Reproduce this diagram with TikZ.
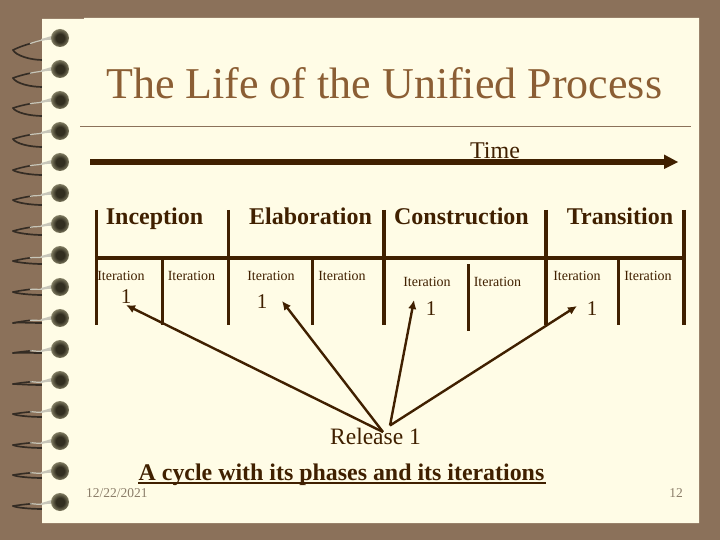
\documentclass[tikz,border=0pt]{standalone}
\usepackage{fontspec}
\setmainfont{Liberation Serif}
\usetikzlibrary{arrows.meta,shadings}
\definecolor{bgc}{RGB}{139,113,90}
\definecolor{paper}{RGB}{255,252,230}
\definecolor{ink}{RGB}{64,32,0}
\definecolor{titlec}{RGB}{139,94,52}
\definecolor{greyt}{RGB}{139,125,105}
\definecolor{beadd}{RGB}{50,46,32}
\definecolor{beadm}{RGB}{110,106,82}
\definecolor{beadl}{RGB}{190,186,155}
\definecolor{wired}{RGB}{52,44,36}
\definecolor{wirel}{RGB}{200,198,185}
\pgfdeclareradialshading{beadsh}{\pgfpoint{0bp}{0bp}}{color(0bp)=(beadd); color(12bp)=(beadd); color(22bp)=(beadm); color(34bp)=(beadl); color(50bp)=(paper)}
\newcommand{\fs}[1]{\fontsize{#1}{#1}\selectfont}
\newcommand{\ringlist}{38/12/22,69/9/18,100/8/16,131/8/16,162/8/13,193/7/12,224/7/11,255/6/9,287/5/8,318/5/5,349/4/4,380/4/5,410/4/7,441/4/7,471/4/7,502/4/7}
\tikzset{
  bar/.style={draw=ink,line width=3.4pt},
  arr/.style={draw=ink,line width=2.4pt,-{Latex[length=9pt,width=8.5pt]}},
  lbl/.style={text=ink,inner sep=0pt,anchor=base},
  iter/.style={lbl,font=\fs{14}},
  one/.style={lbl,font=\fs{21}},
  phase/.style={lbl,font=\fs{24}\bfseries},
  foot/.style={text=greyt,inner sep=0pt,anchor=base,font=\fs{13.5}},
}
\begin{document}
\begin{tikzpicture}[x=1pt,y=-1pt]
\useasboundingbox (0,0) rectangle (720,540);
\fill[bgc] (0,0) rectangle (720,540);
% rings, the parts that lie on the backing
\foreach \b/\t/\l in \ringlist {
  \draw[wired,line width=1.7pt,line cap=round] (13,\b+\t) .. controls (16,\b+\l*.8) and (30,\b+\l) .. (43,\b+\l);
  \draw[wired,line width=1.6pt,line cap=round] (13,\b+\t) .. controls (18,\b+\t*.8) and (24,\b+\t*.6) .. (31,\b+\t*.45);
  \draw[wirel,line width=1.2pt] (30,\b+\t*.47) .. controls (34,\b+\t*.35) and (38,\b+3) .. (43,\b+2);
}
\fill[paper] (42,19) -- (84,19) -- (84,18) -- (699,18) -- (699,523) -- (42,523) -- cycle;
\foreach \b/\t/\l in \ringlist {
  \fill[wirel] (41,\b+1) .. controls (46,\b) and (50,\b-2) .. (56,\b-3) -- (56,\b+3) .. controls (50,\b+1) and (46,\b+2) .. (41,\b+3) -- cycle;
  \shade[shading=beadsh] (60,\b) circle (9);
}
% title
\node[inner sep=0pt,anchor=base west,text=titlec,font=\fs{44}] (title) at (106,99) {The Life of the Unified Process};
\coordinate (ruleA) at (80,126.5);
\coordinate (ruleB) at (691,126.5);
\draw[draw=bgc,line width=.8pt] (ruleA) -- (ruleB);
% time
\node[lbl,font=\fs{24}] (time) at (495,159) {Time};
\coordinate (tA) at (90,162);
\coordinate (tB) at (665,162);
\coordinate (tC) at (678,162);
\draw[draw=ink,line width=6pt] (tA) -- (tB);
\fill[ink] (664,154.5) -- (tC) -- (664,169) -- cycle;
% phases
\node[phase] (p1) at (154.5,225) {Inception};
\node[phase] (p2) at (310.5,225) {Elaboration};
\node[phase] (p3) at (461.5,225) {Construction};
\node[phase] (p4) at (620,225) {Transition};
% grid
\draw[bar] (94.8,258) -- (685.7,258);
\foreach \x in {96.5,228.5,384,546,684}{\draw[bar] (\x,210) -- (\x,325);}
\foreach \x in {162.5,312.5,618.5}{\draw[bar,line width=3pt] (\x,258) -- (\x,325);}
\draw[bar,line width=3pt] (468.5,264) -- (468.5,331);
% iterations
\node[iter] (i1) at (121,280) {Iteration};
\node[iter] (i2) at (191.5,280) {Iteration};
\node[iter] (i3) at (271,280) {Iteration};
\node[iter] (i4) at (342,280) {Iteration};
\node[iter] (i5) at (427,286) {Iteration};
\node[iter] (i6) at (497.5,286) {Iteration};
\node[iter] (i7) at (577,280) {Iteration};
\node[iter] (i8) at (648,280) {Iteration};
\node[one] (o1) at (126,303) {1};
\node[one] (o2) at (262,308) {1};
\node[one] (o3) at (431,315) {1};
\node[one] (o4) at (592,315) {1};
% release
\node[lbl,font=\fs{23.5}] (rel) at (375.5,444) {Release 1};
\coordinate (rA) at (383,432);
\coordinate (rB) at (390,425.5);
\coordinate (t1) at (126,305);
\coordinate (t2) at (282,301);
\coordinate (t3) at (414,300);
\coordinate (t4) at (577,306);
\draw[arr] (rA) -- (t1);
\draw[arr] (rA) -- (t2);
\draw[arr] (rB) -- (t3);
\draw[arr] (rB) -- (t4);
% caption
\node[lbl,font=\fs{23.9}\bfseries] (cap) at (341.5,480) {A cycle with its phases and its iterations};
\coordinate (uA) at (138,483);
\coordinate (uB) at (545.5,483);
\draw[draw=ink,line width=2.2pt] (uA) -- (uB);
% footer
\node[foot,anchor=base west] (date) at (86,497) {12/22/2021};
\node[foot,anchor=base east] (num) at (683,497) {12};
\end{tikzpicture}
\end{document}
